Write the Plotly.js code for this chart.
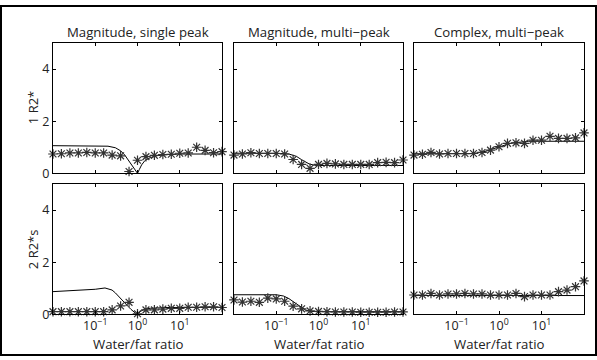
<!DOCTYPE html>
<html>
<head>
<meta charset="utf-8">
<script src="https://cdn.plot.ly/plotly-3.0.1.min.js"></script>
<style>
  html, body { margin: 0; padding: 0; background: #fff; }
  #wrap { position: relative; width: 597px; height: 360px; }
  #frame { position: absolute; left: 0px; top: 5px; width: 593px; height: 347px; border: 2px solid #000; pointer-events: none; }
  #chart { position: absolute; left: 0; top: 0; width: 597px; height: 360px; }
</style>
</head>
<body>
<div id="wrap">
  <div id="chart"></div>
  <div id="frame"></div>
</div>
<script>
// Water/fat ratios of the estimates (asterisks)
const ratios = [0.01, 0.0158, 0.0251, 0.0398, 0.0631, 0.1, 0.158, 0.251, 0.398, 0.631, 1, 1.585, 2.512, 3.981, 6.31, 10, 15.85, 25.12, 39.81, 63.1, 100];

const panelTitles = ["Magnitude, single peak", "Magnitude, multi\u2212peak", "Complex, multi\u2212peak"];
const rowTitles = ["1 R2*", "2 R2*s"];
const xTitle = "Water/fat ratio";
const xTickVals = [0.1, 1, 10];
const xTickText = ["10<sup>\u22121</sup>", "10<sup>0</sup>", "10<sup>1</sup>"];
const yTickVals = [0, 2, 4];

// Estimates (asterisks)
const est1 = [0.74,0.75,0.78,0.78,0.80,0.78,0.78,0.70,0.67,0.07,0.50,0.64,0.69,0.72,0.73,0.77,0.78,1.00,0.88,0.79,0.83];
const est2 = [0.70,0.74,0.79,0.76,0.76,0.76,0.74,0.53,0.34,0.19,0.34,0.38,0.36,0.34,0.34,0.34,0.34,0.41,0.42,0.41,0.51];
const est3 = [0.70,0.73,0.80,0.74,0.76,0.76,0.76,0.76,0.80,0.89,1.02,1.15,1.17,1.15,1.27,1.27,1.42,1.34,1.34,1.36,1.55];
const est4 = [0.10,0.10,0.10,0.10,0.10,0.10,0.10,0.17,0.32,0.46,0.02,0.17,0.17,0.20,0.23,0.23,0.27,0.27,0.29,0.29,0.26];
const est5 = [0.55,0.47,0.50,0.46,0.62,0.59,0.50,0.31,0.21,0.13,0.11,0.10,0.09,0.09,0.09,0.08,0.08,0.08,0.08,0.09,0.09];
const est6 = [0.74,0.74,0.80,0.74,0.78,0.78,0.80,0.78,0.78,0.74,0.74,0.74,0.80,0.68,0.74,0.74,0.74,0.87,0.93,1.06,1.28];

// Reference curves (solid lines)
const curve1X = [0.01, 0.1, 0.2, 0.3, 0.4, 0.5, 0.6, 0.7, 0.8, 0.9, 1.0, 1.1, 1.25, 1.5, 2, 3, 5, 10, 100];
const curve1Y = [1.06, 1.06, 1.04, 0.98, 0.86, 0.70, 0.52, 0.37, 0.22, 0.10, 0.0, 0.14, 0.32, 0.49, 0.60, 0.68, 0.72, 0.74, 0.74];
const curve2X = [0.01, 0.1, 0.2, 0.3, 0.4, 0.5, 0.6, 0.8, 1, 100];
const curve2Y = [0.77, 0.77, 0.74, 0.65, 0.52, 0.42, 0.36, 0.31, 0.30, 0.30];
const curve3X = [0.01, 0.2, 0.3, 0.5, 0.7, 1, 1.5, 2, 3, 5, 100];
const curve3Y = [0.75, 0.75, 0.78, 0.85, 0.93, 1.02, 1.10, 1.16, 1.20, 1.23, 1.23];
const curve4X = [0.01, 0.03, 0.1, 0.17, 0.25, 0.3, 0.4, 0.5, 0.6, 0.7, 0.8, 0.9, 1.0, 1.2, 1.5, 2, 5, 100];
const curve4Y = [0.87, 0.90, 0.96, 1.01, 0.93, 0.82, 0.62, 0.44, 0.30, 0.19, 0.10, 0.04, 0.0, 0.12, 0.20, 0.23, 0.26, 0.27];
const curve5X = [0.01, 0.1, 0.15, 0.2, 0.3, 0.4, 0.5, 0.7, 1, 100];
const curve5Y = [0.75, 0.75, 0.70, 0.60, 0.40, 0.25, 0.16, 0.11, 0.10, 0.10];
const curve6X = [0.01, 100];
const curve6Y = [0.72, 0.72];

const ests = [est1, est2, est3, est4, est5, est6];
const curves = [[curve1X, curve1Y], [curve2X, curve2Y], [curve3X, curve3Y], [curve4X, curve4Y], [curve5X, curve5Y], [curve6X, curve6Y]];

const W = 597, H = 360;
const colPx = [[53, 222], [234, 403], [414, 584]];
const rowPx = [[43, 173.3], [184, 314.3]];

const FONT = "Open Sans, Noto Sans, DejaVu Sans, sans-serif";
const data = [];
const layout = {
  width: W, height: H,
  margin: {l: 0, r: 0, t: 0, b: 0, pad: 0},
  paper_bgcolor: "rgba(0,0,0,0)",
  plot_bgcolor: "#fff",
  showlegend: false,
  font: {family: FONT, size: 12, color: "#222"},
  annotations: [],
};

for (let i = 0; i < 6; i++) {
  const r = Math.floor(i / 3), c = i % 3;
  const n = i + 1;
  const xa = "x" + (n === 1 ? "" : n), ya = "y" + (n === 1 ? "" : n);
  const xk = "xaxis" + (n === 1 ? "" : n), yk = "yaxis" + (n === 1 ? "" : n);
  layout[xk] = {
    type: "log", range: [-2, 2],
    domain: [colPx[c][0] / W, colPx[c][1] / W],
    anchor: ya,
    showgrid: false, zeroline: false,
    showline: true, linecolor: "#000", linewidth: 1, mirror: "ticks",
    ticks: "inside", ticklen: 3, tickcolor: "#000", tickwidth: 1,
    tickvals: xTickVals, ticktext: xTickText,
    showticklabels: r === 1,
    tickfont: {size: 12.5, color: "#222", family: FONT},
  };
  layout[yk] = {
    range: [0, 5],
    domain: [1 - rowPx[r][1] / H, 1 - rowPx[r][0] / H],
    anchor: xa,
    showgrid: false, zeroline: false,
    showline: true, linecolor: "#000", linewidth: 1, mirror: "ticks",
    ticks: "inside", ticklen: 3, tickcolor: "#000", tickwidth: 1,
    tickvals: yTickVals,
    showticklabels: c === 0,
    tickfont: {size: 12.5, color: "#222", family: FONT},
  };
  data.push({
    x: curves[i][0], y: curves[i][1], xaxis: xa, yaxis: ya,
    mode: "lines", line: {color: "#000", width: 1}, hoverinfo: "skip",
  });
  data.push({
    x: ratios, y: ests[i], xaxis: xa, yaxis: ya,
    mode: "markers", cliponaxis: false,
    marker: {symbol: "asterisk-open", size: 8, color: "#333", line: {color: "#333", width: 1.2}},
  });
}

// Panel titles and x titles
for (let c = 0; c < 3; c++) {
  layout.annotations.push({
    text: panelTitles[c], xref: "paper", yref: "paper",
    x: (colPx[c][0] + colPx[c][1]) / 2 / W, y: 1 - 31.5 / H,
    xanchor: "center", yanchor: "middle", showarrow: false,
    font: {size: 13.2, color: "#222", family: FONT},
  });
  layout.annotations.push({
    text: xTitle, xref: "paper", yref: "paper",
    x: (colPx[c][0] + colPx[c][1]) / 2 / W, y: 1 - 343.5 / H,
    xanchor: "center", yanchor: "middle", showarrow: false,
    font: {size: 13.2, color: "#222", family: FONT},
  });
}
// Row titles
for (let r = 0; r < 2; r++) {
  layout.annotations.push({
    text: rowTitles[r], xref: "paper", yref: "paper",
    x: 33 / W, y: 1 - (rowPx[r][0] + rowPx[r][1]) / 2 / H,
    xanchor: "center", yanchor: "middle", textangle: -90, showarrow: false,
    font: {size: 13, color: "#222", family: FONT},
  });
}

Plotly.newPlot("chart", data, layout, {staticPlot: true, displayModeBar: false});
</script>
</body>
</html>
